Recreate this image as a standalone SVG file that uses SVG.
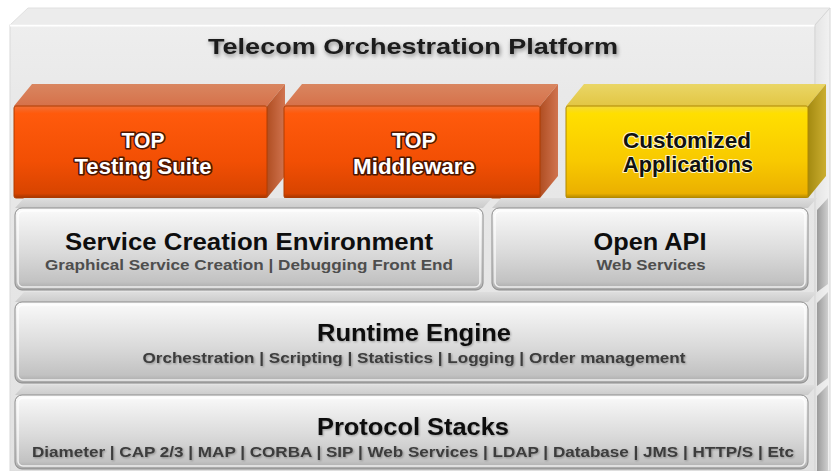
<svg xmlns="http://www.w3.org/2000/svg" width="832" height="471" viewBox="0 0 832 471">
<defs>
  <linearGradient id="platFront" x1="0" y1="0" x2="0" y2="1">
    <stop offset="0" stop-color="#eeeeee"/>
    <stop offset="0.15" stop-color="#e9e9e9"/>
    <stop offset="1" stop-color="#e2e2e2"/>
  </linearGradient>
  <linearGradient id="platSide" x1="0" y1="0" x2="1" y2="0">
    <stop offset="0" stop-color="#e4e4e4"/>
    <stop offset="1" stop-color="#f2f2f2"/>
  </linearGradient>
  <linearGradient id="orFront" x1="0" y1="0" x2="0" y2="1">
    <stop offset="0" stop-color="#f07038"/>
    <stop offset="0.08" stop-color="#ff5a0c"/>
    <stop offset="0.6" stop-color="#f24f04"/>
    <stop offset="0.95" stop-color="#d84400"/>
    <stop offset="1" stop-color="#a23400"/>
  </linearGradient>
  <linearGradient id="orTop" x1="0" y1="0" x2="0" y2="1">
    <stop offset="0" stop-color="#d98660"/>
    <stop offset="1" stop-color="#d6714a"/>
  </linearGradient>
  <linearGradient id="orSide" x1="0" y1="0" x2="1" y2="0">
    <stop offset="0" stop-color="#b04e22"/>
    <stop offset="1" stop-color="#d07450"/>
  </linearGradient>
  <linearGradient id="yeFront" x1="0" y1="0" x2="0" y2="1">
    <stop offset="0" stop-color="#f2d83c"/>
    <stop offset="0.08" stop-color="#ffdf00"/>
    <stop offset="0.6" stop-color="#f8c900"/>
    <stop offset="0.95" stop-color="#ebb000"/>
    <stop offset="1" stop-color="#b08600"/>
  </linearGradient>
  <linearGradient id="yeTop" x1="0" y1="0" x2="0" y2="1">
    <stop offset="0" stop-color="#ead666"/>
    <stop offset="1" stop-color="#e2c644"/>
  </linearGradient>
  <linearGradient id="yeSide" x1="0" y1="0" x2="1" y2="0">
    <stop offset="0" stop-color="#a48a10"/>
    <stop offset="1" stop-color="#cbae30"/>
  </linearGradient>
  <linearGradient id="grFront" x1="0" y1="0" x2="0" y2="1">
    <stop offset="0" stop-color="#fbfbfb"/>
    <stop offset="0.12" stop-color="#f3f3f3"/>
    <stop offset="0.55" stop-color="#dadada"/>
    <stop offset="0.9" stop-color="#c2c2c2"/>
    <stop offset="1" stop-color="#a6a6a6"/>
  </linearGradient>
  <linearGradient id="grTop" x1="0" y1="0" x2="0" y2="1">
    <stop offset="0" stop-color="#dedede"/>
    <stop offset="1" stop-color="#cbcbcb"/>
  </linearGradient>
  <linearGradient id="grSide" x1="0" y1="0" x2="1" y2="0">
    <stop offset="0" stop-color="#9a9a9a"/>
    <stop offset="1" stop-color="#cfcfcf"/>
  </linearGradient>
  <filter id="shadow" x="-10%" y="-50%" width="120%" height="200%">
    <feGaussianBlur in="SourceAlpha" stdDeviation="2.2"/>
    <feOffset dx="1" dy="1.5" result="b"/>
    <feComponentTransfer><feFuncA type="linear" slope="0.45"/></feComponentTransfer>
    <feMerge><feMergeNode/><feMergeNode in="SourceGraphic"/></feMerge>
  </filter>
  <filter id="soft" x="-5%" y="-30%" width="110%" height="160%">
    <feGaussianBlur in="SourceAlpha" stdDeviation="1"/>
    <feOffset dx="0.5" dy="1"/>
    <feComponentTransfer><feFuncA type="linear" slope="0.3"/></feComponentTransfer>
    <feMerge><feMergeNode/><feMergeNode in="SourceGraphic"/></feMerge>
  </filter>
</defs>
<style>
  .f { font-family: "Liberation Sans", Arial, sans-serif; font-weight: bold; text-anchor: middle; }
  .ti { font-size: 22px; fill: #1b1b1b; }
  .ot { font-size: 21.5px; fill: #ffffff; stroke: #4e1600; stroke-width: 3.2; paint-order: stroke; stroke-linejoin: round; }
  .yt { font-size: 21.5px; fill: #111111; stroke: #fff7c4; stroke-width: 2; paint-order: stroke; stroke-linejoin: round; }
  .gh { font-size: 23.5px; fill: #0e0e0e; }
  .gs { font-size: 15px; fill: #4e4e4e; }
  .rs { font-size: 15.5px; fill: #3c3c3c; }
  .fr { stroke-width: 1; }
  .hl { fill: none; stroke: #ffffff; stroke-opacity: 0.8; stroke-width: 1.5; }
</style>

<rect x="0" y="0" width="832" height="471" fill="#ffffff"/>

<g id="platform">
  <polygon points="10,25 28,8 830,8 815,25" fill="#ececec" stroke="#e0e0e0" stroke-width="1"/>
  <rect x="10" y="25" width="805" height="446" fill="url(#platFront)" stroke="#dadada" stroke-width="1"/>
  <line x1="10" y1="25.5" x2="815" y2="25.5" stroke="#ffffff" stroke-width="2"/>
  <polygon points="815,25 830,8 830,471 815,471" fill="url(#platSide)" stroke="#d6d6d6" stroke-width="1"/>
  <polygon points="817,210 828,198 828,284 817,292" fill="url(#grSide)"/>
  <polygon points="817,303 828,292 828,378 817,386" fill="url(#grSide)"/>
  <polygon points="817,396 828,385 828,471 817,471" fill="url(#grSide)"/>
  <text class="f ti" x="413" y="54" textLength="410" lengthAdjust="spacingAndGlyphs" filter="url(#shadow)">Telecom Orchestration Platform</text>
</g>

<g id="top-testing-suite">
  <polygon points="14,106 32,84 285,84 267,106" fill="url(#orTop)"/>
  <polygon points="267,106 285,84 285,176 267,198" fill="url(#orSide)"/>
  <rect x="14" y="106" width="253" height="92" rx="2" fill="url(#orFront)" stroke="#b03c00" class="fr"/>
  <text class="f ot" x="143" y="148" textLength="43" lengthAdjust="spacingAndGlyphs">TOP</text>
  <text class="f ot" x="143" y="174" textLength="137" lengthAdjust="spacingAndGlyphs">Testing Suite</text>
</g>

<g id="top-middleware">
  <polygon points="284,106 302,84 558,84 540,106" fill="url(#orTop)"/>
  <polygon points="540,106 558,84 558,176 540,198" fill="url(#orSide)"/>
  <rect x="284" y="106" width="256" height="92" rx="2" fill="url(#orFront)" stroke="#b03c00" class="fr"/>
  <text class="f ot" x="414" y="148" textLength="44" lengthAdjust="spacingAndGlyphs">TOP</text>
  <text class="f ot" x="414" y="174" textLength="122" lengthAdjust="spacingAndGlyphs">Middleware</text>
</g>

<g id="customized-applications">
  <polygon points="566,106 584,84 826,84 808,106" fill="url(#yeTop)"/>
  <polygon points="808,106 826,84 826,176 808,198" fill="url(#yeSide)"/>
  <rect x="566" y="106" width="242" height="92" rx="2" fill="url(#yeFront)" stroke="#b08800" class="fr"/>
  <text class="f yt" x="687" y="148" textLength="128" lengthAdjust="spacingAndGlyphs">Customized</text>
  <text class="f yt" x="688" y="172" textLength="130" lengthAdjust="spacingAndGlyphs">Applications</text>
</g>

<g id="service-creation-environment">
  <polygon points="15,208 24,198 492,198 483,208" fill="url(#grTop)"/>
  <rect x="15" y="208" width="468" height="82" rx="7" fill="url(#grFront)" stroke="#8c8c8c" class="fr"/>
  <rect x="18" y="211" width="462" height="76" rx="5" class="hl"/>
  <text class="f gh" x="249" y="250" textLength="368" lengthAdjust="spacingAndGlyphs">Service Creation Environment</text>
  <text class="f gs" x="249" y="270" textLength="408" lengthAdjust="spacingAndGlyphs">Graphical Service Creation | Debugging Front End</text>
</g>

<g id="open-api">
  <polygon points="492,208 501,198 817,198 808,208" fill="url(#grTop)"/>
  <rect x="492" y="208" width="316" height="82" rx="7" fill="url(#grFront)" stroke="#8c8c8c" class="fr"/>
  <rect x="495" y="211" width="310" height="76" rx="5" class="hl"/>
  <text class="f gh" x="650" y="250" textLength="113" lengthAdjust="spacingAndGlyphs">Open API</text>
  <text class="f gs" x="651" y="270" textLength="109" lengthAdjust="spacingAndGlyphs">Web Services</text>
</g>

<g id="runtime-engine">
  <polygon points="15,302 24,292 817,292 808,302" fill="url(#grTop)"/>
  <rect x="15" y="302" width="793" height="81" rx="7" fill="url(#grFront)" stroke="#8c8c8c" class="fr"/>
  <rect x="18" y="305" width="787" height="75" rx="5" class="hl"/>
  <text class="f gh" x="414" y="341" textLength="194" lengthAdjust="spacingAndGlyphs" filter="url(#soft)">Runtime Engine</text>
  <text class="f rs" x="414" y="363" textLength="543" lengthAdjust="spacingAndGlyphs" filter="url(#soft)">Orchestration | Scripting | Statistics | Logging | Order management</text>
</g>

<g id="protocol-stacks">
  <polygon points="15,395 24,385 817,385 808,395" fill="url(#grTop)"/>
  <rect x="15" y="395" width="793" height="74" rx="7" fill="url(#grFront)" stroke="#8c8c8c" class="fr"/>
  <rect x="18" y="398" width="787" height="68" rx="5" class="hl"/>
  <text class="f gh" x="413" y="435" textLength="192" lengthAdjust="spacingAndGlyphs" filter="url(#soft)">Protocol Stacks</text>
  <text class="f rs" x="413" y="457" textLength="762" lengthAdjust="spacingAndGlyphs" filter="url(#soft)">Diameter | CAP 2/3 | MAP | CORBA | SIP | Web Services | LDAP | Database | JMS | HTTP/S | Etc</text>
</g>

<g id="connectors"/>
</svg>
